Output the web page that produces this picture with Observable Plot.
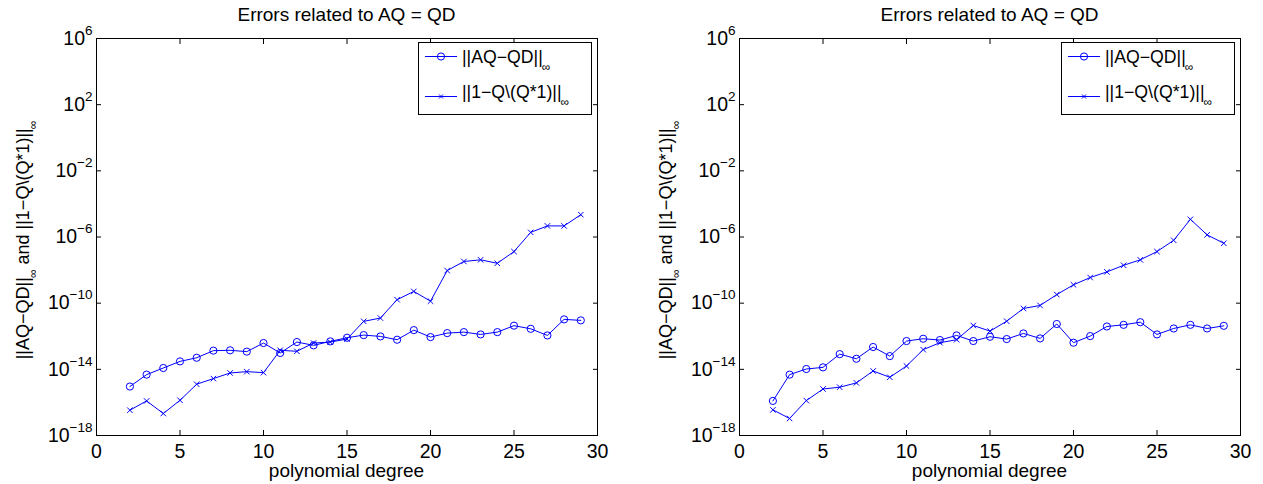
<!DOCTYPE html>
<html><head><meta charset="utf-8">
<script src="https://cdn.jsdelivr.net/npm/d3@7"></script>
<script src="https://cdn.jsdelivr.net/npm/@observablehq/plot@0.6"></script>
<style>
body{margin:0;background:#fff;font-family:"Liberation Sans",Arial,sans-serif;color:#000;}
#root{position:relative;width:1263px;height:484px;overflow:hidden;background:#fff;}
.panel{position:absolute;top:0;height:484px;}
.panel svg{position:absolute;left:0;top:0;}
.title,.xlabel{position:absolute;font-size:19px;line-height:19px;white-space:nowrap;transform:translateX(-50%);}
.ylabel{position:absolute;font-size:18px;line-height:18px;white-space:nowrap;transform:translate(-50%,-50%) rotate(-90deg);}
.sub{font-size:12px;vertical-align:-8px;line-height:0;margin-left:-1px;}
.legend{position:absolute;border:1px solid #000;background:#fff;box-sizing:border-box;}
.legend .txt{position:absolute;font-size:17.7px;line-height:18px;white-space:nowrap;}
.legend svg{position:absolute;left:0;top:0;overflow:visible;}
</style>
</head><body>
<div id="root"></div>
<script>
// ---- data (exponents of 10) ----
const degrees = [2,3,4,5,6,7,8,9,10,11,12,13,14,15,16,17,18,19,20,21,22,23,24,25,26,27,28,29];
const leftAQexp = [-15.04,-14.32,-13.92,-13.52,-13.30,-12.87,-12.85,-12.93,-12.41,-13.01,-12.35,-12.55,-12.31,-12.09,-11.93,-12.01,-12.21,-11.63,-12.05,-11.81,-11.75,-11.89,-11.75,-11.36,-11.55,-11.95,-10.98,-11.04];
const leftQexp  = [-16.47,-15.91,-16.67,-15.87,-14.90,-14.56,-14.22,-14.14,-14.20,-12.85,-12.91,-12.41,-12.35,-12.17,-11.10,-10.90,-9.79,-9.29,-9.88,-8.03,-7.48,-7.38,-7.59,-6.88,-5.72,-5.33,-5.33,-4.65];
const rightAQexp = [-15.91,-14.32,-13.98,-13.88,-13.08,-13.36,-12.65,-13.20,-12.29,-12.15,-12.23,-11.95,-12.29,-12.03,-12.17,-11.83,-12.13,-11.26,-12.39,-11.99,-11.41,-11.31,-11.15,-11.89,-11.53,-11.31,-11.53,-11.37];
const rightQexp  = [-16.45,-16.97,-15.89,-15.19,-15.08,-14.82,-14.10,-14.48,-13.80,-12.81,-12.39,-12.21,-11.35,-11.69,-11.09,-10.32,-10.14,-9.48,-8.89,-8.45,-8.11,-7.71,-7.38,-6.88,-6.20,-4.93,-5.87,-6.38];
const xTicks = [0,5,10,15,20,25,30];
const yTickExps = [-18,-14,-10,-6,-2,2,6];
const titleText = "Errors related to AQ = QD";
const xLabelText = "polynomial degree";
const seriesNames = ["||AQ\u2212QD||", "||1\u2212Q\\(Q*1)||"];

const BLUE = "#0000ff";
const yTicks = yTickExps.map(e => 10 ** e);
const MT = 38, MB = 49, H = 484;

function makePanel(left, width, ml, mr, aqExp, qExp) {
  const panel = document.createElement("div");
  panel.className = "panel";
  panel.style.left = left + "px";
  panel.style.width = width + "px";
  const aq = degrees.map((d, i) => ({d, v: 10 ** aqExp[i]}));
  const q = degrees.map((d, i) => ({d, v: 10 ** qExp[i]}));
  const svg = Plot.plot({
    width, height: H, marginLeft: ml, marginRight: mr, marginTop: MT, marginBottom: MB,
    style: {fontFamily: "'Liberation Sans', Arial, sans-serif", fontSize: "19px", background: "transparent", color: "#000", overflow: "visible"},
    x: {domain: [0, 30]},
    y: {type: "log", domain: [1e-18, 1e6]},
    marks: [
      Plot.axisX({ticks: xTicks, anchor: "bottom", tickSize: -5, tickPadding: 14, fontSize: 19.5, tickFormat: d => String(d), label: null}),
      Plot.axisX({ticks: xTicks, anchor: "top", tickSize: -5, tickFormat: () => "", label: null}),
      Plot.axisY({ticks: yTicks, anchor: "left", tickSize: -5, tickPadding: 9, fontSize: 19.5, tickFormat: d => String(Math.round(Math.log10(d))).replace("-", "\u2212"), label: null}),
      Plot.axisY({ticks: yTicks, anchor: "right", tickSize: -5, tickFormat: () => "", label: null}),
      Plot.line(aq, {x: "d", y: "v", stroke: BLUE, strokeWidth: 1}),
      Plot.dot(aq, {x: "d", y: "v", symbol: "circle", r: 3.6, stroke: BLUE, fill: "none", strokeWidth: 1}),
      Plot.line(q, {x: "d", y: "v", stroke: BLUE, strokeWidth: 1}),
      Plot.dot(q, {x: "d", y: "v", symbol: "times", r: 2.6, stroke: BLUE, strokeWidth: 1}),
      Plot.frame({stroke: "#000", strokeWidth: 1})
    ]
  });
  // superscript exponents on y tick labels
  for (const t of svg.querySelectorAll('g[aria-label="y-axis tick label"] text')) {
    const e = t.textContent;
    if (!e) continue;
    t.textContent = "10";
    const ts = document.createElementNS("http://www.w3.org/2000/svg", "tspan");
    ts.setAttribute("dy", "-10");
    ts.setAttribute("font-size", "13.5");
    ts.textContent = e;
    t.appendChild(ts);
  }
  panel.appendChild(svg);
  const fl = ml, fr = width - mr, cx = (fl + fr) / 2;
  const title = document.createElement("div");
  title.className = "title"; title.textContent = titleText;
  title.style.left = cx + "px"; title.style.top = "5px";
  panel.appendChild(title);
  const xl = document.createElement("div");
  xl.className = "xlabel"; xl.textContent = xLabelText;
  xl.style.left = cx + "px"; xl.style.top = "461px";
  panel.appendChild(xl);
  const yl = document.createElement("div");
  yl.className = "ylabel";
  yl.innerHTML = seriesNames[0] + '<span class="sub">\u221e</span> and ' + seriesNames[1] + '<span class="sub">\u221e</span>';
  yl.style.left = (fl - 73) + "px"; yl.style.top = "240px";
  panel.appendChild(yl);
  // legend
  const lg = document.createElement("div");
  lg.className = "legend";
  const lw = 174, lh = 73;
  lg.style.width = lw + "px"; lg.style.height = lh + "px";
  lg.style.left = (fr - 5 - lw) + "px"; lg.style.top = (MT + 4) + "px";
  const ns = "http://www.w3.org/2000/svg";
  const ls = document.createElementNS(ns, "svg");
  ls.setAttribute("width", lw); ls.setAttribute("height", lh);
  const rowsY = [13.5, 53.5];
  rowsY.forEach((y, i) => {
    const ln = document.createElementNS(ns, "line");
    ln.setAttribute("x1", 6); ln.setAttribute("x2", 38); ln.setAttribute("y1", y); ln.setAttribute("y2", y);
    ln.setAttribute("stroke", BLUE); ln.setAttribute("stroke-width", 1);
    ls.appendChild(ln);
    if (i === 0) {
      const c = document.createElementNS(ns, "circle");
      c.setAttribute("cx", 22); c.setAttribute("cy", y); c.setAttribute("r", 3.6);
      c.setAttribute("fill", "none"); c.setAttribute("stroke", BLUE);
      ls.appendChild(c);
    } else {
      const p = document.createElementNS(ns, "path");
      p.setAttribute("d", `M${22-2},${y-2}L${22+2},${y+2}M${22-2},${y+2}L${22+2},${y-2}`);
      p.setAttribute("stroke", BLUE); p.setAttribute("fill", "none");
      ls.appendChild(p);
    }
  });
  lg.appendChild(ls);
  const txtTops = [4.5, 39.5];
  seriesNames.forEach((s, i) => {
    const tx = document.createElement("div");
    tx.className = "txt";
    tx.innerHTML = s + '<span class="sub">\u221e</span>';
    tx.style.left = "43px"; tx.style.top = txtTops[i] + "px";
    lg.appendChild(tx);
  });
  panel.appendChild(lg);
  return panel;
}

const root = document.getElementById("root");
root.appendChild(makePanel(0, 631, 96, 34, leftAQexp, leftQexp));
root.appendChild(makePanel(631, 632, 108, 23, rightAQexp, rightQexp));
</script>
</body></html>
